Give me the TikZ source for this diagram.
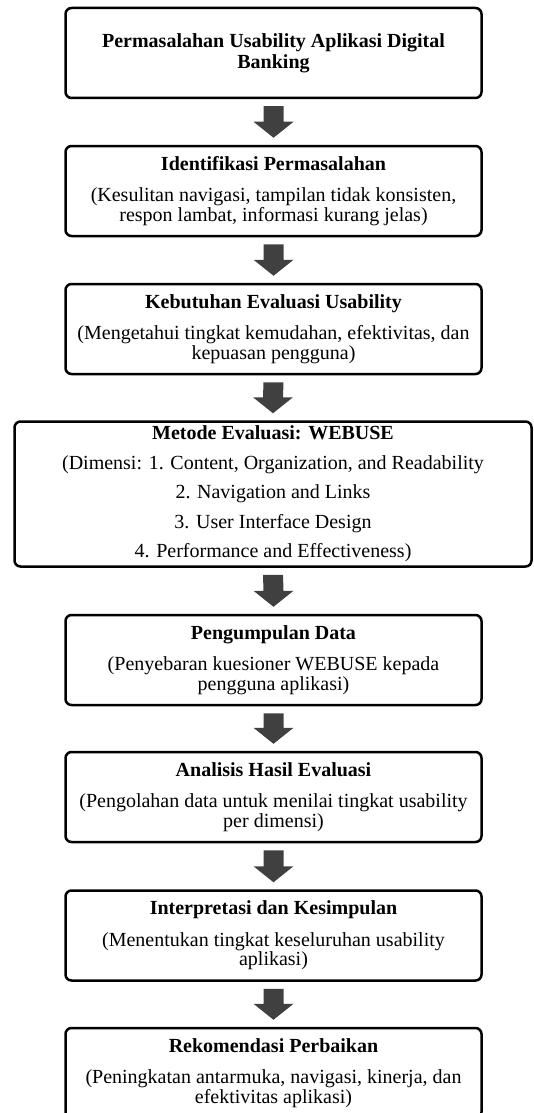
\documentclass[tikz,border=0pt]{standalone}
\usepackage{fontspec}
\setmainfont{Liberation Serif}
\usetikzlibrary{calc}
\definecolor{arrowgray}{HTML}{404040}
\tikzset{
  stepbox/.style={draw, line width=2.5pt, rounded corners=6pt, minimum width=416pt,
    minimum height=90pt, align=center, inner sep=2pt, font=\fontsize{20}{19.5}\selectfont},
  blockarrow/.style={fill=arrowgray}
}

\begin{document}
\begin{tikzpicture}[x=1pt, y=1pt]
    \useasboundingbox (0,0) rectangle (534,-1113);

    \node[stepbox] (masalah) at (273.5,-53) {\textbf{Permasalahan Usability Aplikasi Digital}\\[1.5pt]\textbf{Banking}};
    \node[stepbox] (identifikasi) at (273.5,-191) {\textbf{Identifikasi Permasalahan}\\[12pt](Kesulitan navigasi, tampilan tidak konsisten,\\respon lambat, informasi kurang jelas)};
    \node[stepbox] (kebutuhan) at (273.5,-329) {\textbf{Kebutuhan Evaluasi Usability}\\[12pt](Mengetahui tingkat kemudahan, efektivitas, dan\\kepuasan pengguna)};
    \node[stepbox, minimum width=517pt, minimum height=145pt] (metode) at (273,-494) {\textbf{Metode Evaluasi: WEBUSE}\\[10pt](Dimensi: 1. Content, Organization, and Readability\\[10pt]2. Navigation and Links\\[10pt]3. User Interface Design\\[10pt]4. Performance and Effectiveness)};
    \node[stepbox] (pengumpulan) at (273.5,-660) {\textbf{Pengumpulan Data}\\[12pt](Penyebaran kuesioner WEBUSE kepada\\pengguna aplikasi)};
    \node[stepbox] (analisis) at (273.5,-797) {\textbf{Analisis Hasil Evaluasi}\\[12pt](Pengolahan data untuk menilai tingkat usability\\per dimensi)};
    \node[stepbox] (interpretasi) at (273.5,-935.5) {\textbf{Interpretasi dan Kesimpulan}\\[12pt](Menentukan tingkat keseluruhan usability\\aplikasi)};
    \node[stepbox] (rekomendasi) at (273.5,-1073) {\textbf{Rekomendasi Perbaikan}\\[12pt](Peningkatan antarmuka, navigasi, kinerja, dan\\efektivitas aplikasi)};

    % block arrows between the steps
    \foreach \a/\b in {masalah/identifikasi, identifikasi/kebutuhan, kebutuhan/metode, metode/pengumpulan,
                       pengumpulan/analisis, analisis/interpretasi, interpretasi/rekomendasi}
      \fill[blockarrow] ($(\a.south)+(-10,-7)$) -- ($(\a.south)+(10,-7)$) -- ($(\b.north)+(10,23)$)
        -- ($(\b.north)+(20,23)$) -- ($(\b.north)+(0,7)$) -- ($(\b.north)+(-20,23)$)
        -- ($(\b.north)+(-10,23)$) -- cycle;
\end{tikzpicture}
\end{document}
